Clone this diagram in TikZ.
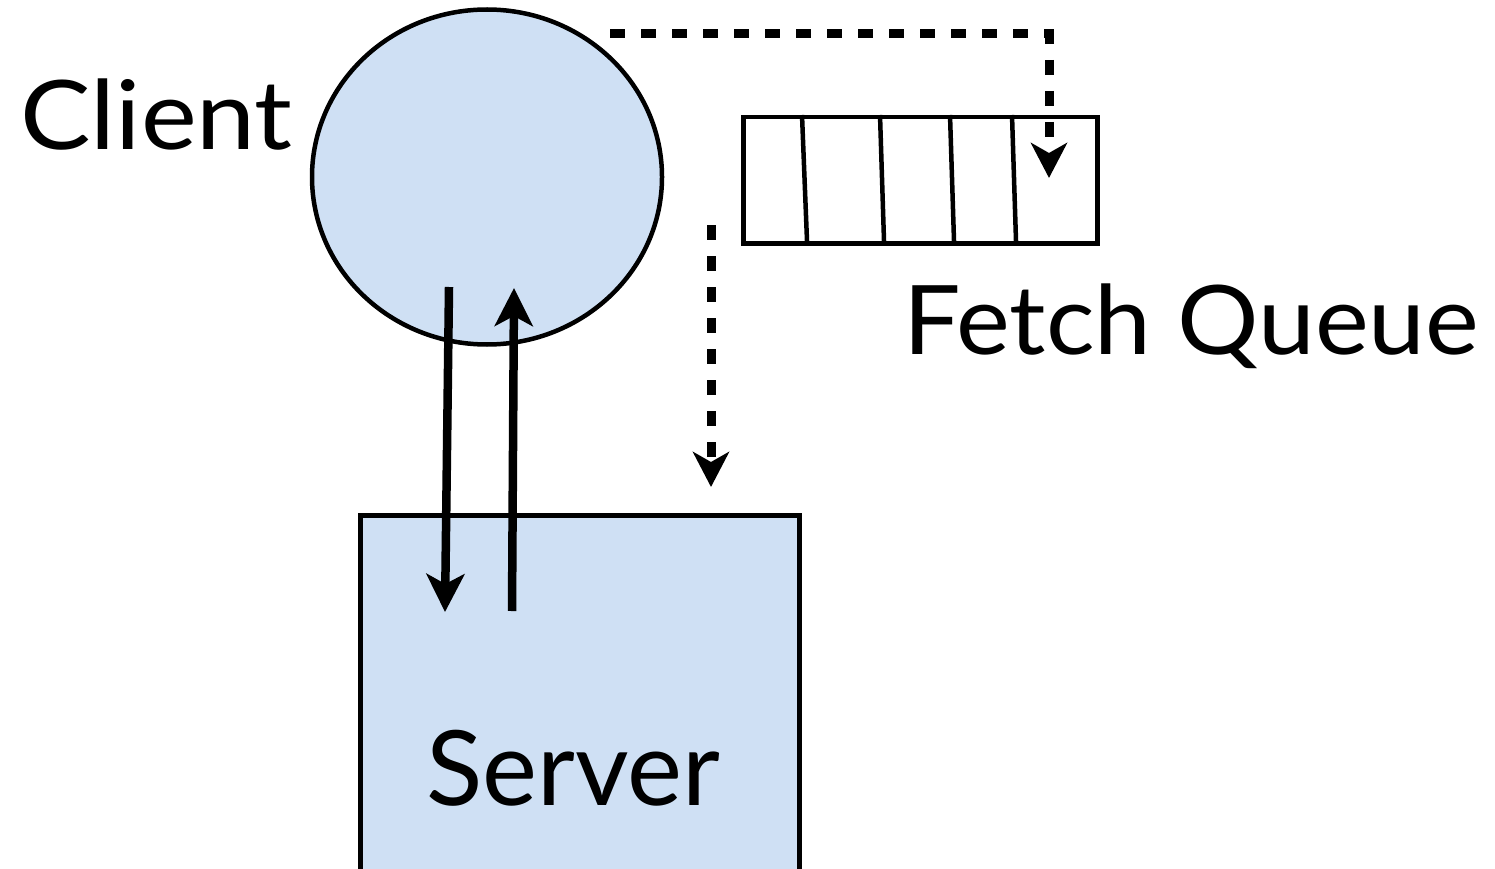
\documentclass[tikz,border=0pt]{standalone}
\usepackage{fontspec}
\setmainfont{Lato}
\newfontfamily\widefont[FakeStretch=1.1]{Lato}
\newfontfamily\queuefont[FakeStretch=1.06]{Lato}
\usetikzlibrary{arrows.meta,shapes.geometric}
\definecolor{boxblue}{RGB}{207,224,244}
\tikzset{
  shape line/.style={draw=black, line width=4.5pt},
  flow/.style={line width=8.5pt, -{Stealth[length=38pt,width=38pt,inset=10pt]}},
  dashflow/.style={line width=9pt, dash pattern=on 15pt off 16pt, -{Stealth[length=35pt,width=36pt,inset=10pt]}},
  label text/.style={inner sep=0pt, anchor=base west, text=black},
}
\begin{document}
\begin{tikzpicture}[x=1pt,y=-1pt]
\useasboundingbox (0,0) rectangle (1495,869);
% client
\node[shape line, fill=boxblue, ellipse, minimum width=350pt, minimum height=335pt, inner sep=0pt] (client) at (487,177) {};
% server
\node[shape line, fill=boxblue, rectangle, minimum width=439pt, minimum height=400pt, inner sep=0pt, anchor=north west] (server) at (358,513) {};
% queue
\node[shape line, rectangle, minimum width=354pt, minimum height=126pt, inner sep=0pt, anchor=north west] (queue) at (741,115) {};
\draw[line width=4.5pt] (802,115) -- (807,241);
\draw[line width=4.5pt] (880,115) -- (884,241);
\draw[line width=4.5pt] (950,115) -- (954,241);
\draw[line width=4.5pt] (1012,115) -- (1016,241);
% labels
\node[label text, font=\widefont\fontsize{96}{100}\selectfont] (clientlabel) at (20,150) {Client};
\node[label text, font=\queuefont\fontsize{96}{100}\selectfont] (queuelabel) at (903,354) {Fetch Queue};
\node[label text, font=\fontsize{104}{110}\selectfont] (serverlabel) at (426,805) {Server};
% connectors
\coordinate (reqstart) at (449,287);
\coordinate (reqend) at (445,612);
\coordinate (respstart) at (512,611);
\coordinate (respend) at (514,288);
\draw[flow] (reqstart) -- (reqend);
\draw[flow] (respstart) -- (respend);
\coordinate (enqstart) at (610,34);
\coordinate (enqcorner) at (1049,34);
\coordinate (enqend) at (1049,178);
\draw[dashflow] (enqstart) -- (enqcorner) -- (enqend);
\coordinate (deqstart) at (711,225);
\coordinate (deqend) at (711,487);
\draw[dashflow] (deqstart) -- (deqend);
\end{tikzpicture}
\end{document}
